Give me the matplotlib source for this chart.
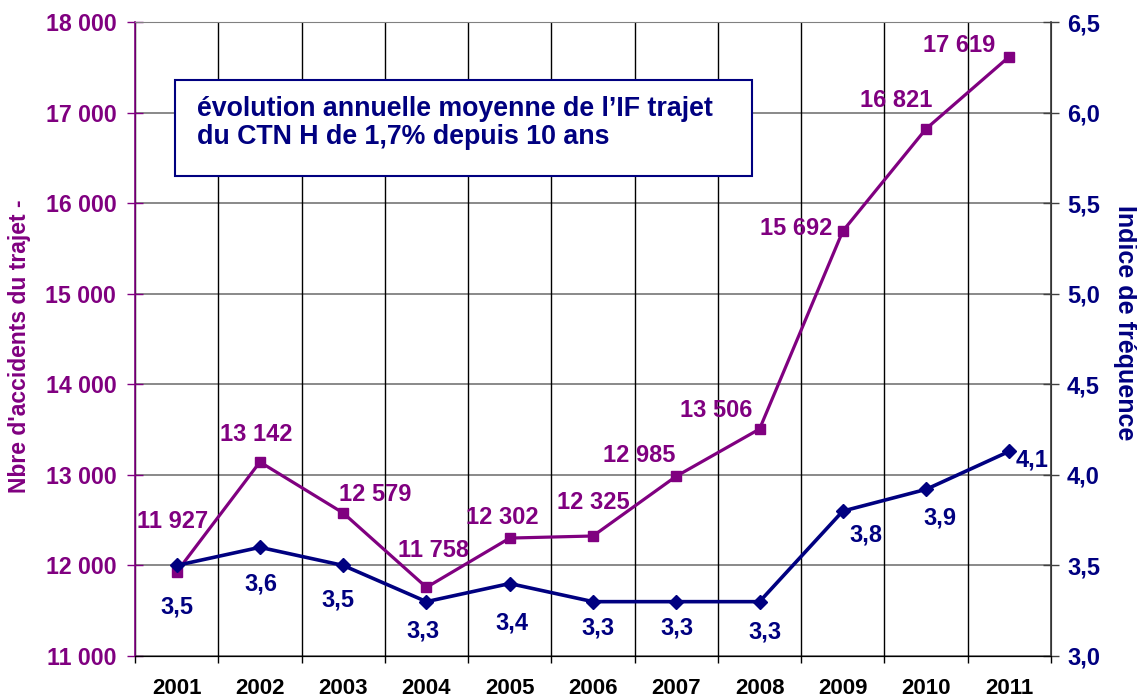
import matplotlib
matplotlib.use("Agg")
import matplotlib.pyplot as plt
from matplotlib.patches import Rectangle

plt.rcParams['font.family'] = ['Liberation Sans', 'DejaVu Sans']
plt.rcParams['font.weight'] = 'bold'

PURPLE = '#800080'
NAVY = '#000080'

years = ['2001', '2002', '2003', '2004', '2005', '2006', '2007', '2008', '2009', '2010', '2011']
accidents = [11927, 13142, 12579, 11758, 12302, 12325, 12985, 13506, 15692, 16821, 17619]
indice = [3.50, 3.60, 3.50, 3.30, 3.40, 3.30, 3.30, 3.30, 3.80, 3.92, 4.13]
left_ticks = [11000, 12000, 13000, 14000, 15000, 16000, 17000, 18000]
right_ticks = [3.0, 3.5, 4.0, 4.5, 5.0, 5.5, 6.0, 6.5]

# label offsets in pixels (dx, dy), screen y up
acc_off = [(-4, 51), (-4, 27), (32, 18), (7, 37), (-7, 21), (0, 33),
           (-37, 21), (-43, 19), (-47, 3), (-30, 28), (-50, 11)]
ind_off = [(0, -42), (1, -37), (-5, -35), (-3, -29), (2, -39), (5, -26),
           (1, -26), (5, -30), (23, -24), (14, -29), (23, -9)]

def fmt_thousands(v):
    return '{:,}'.format(int(v)).replace(',', ' ')

fig = plt.figure(figsize=(11.37, 6.99), dpi=100)
ax = fig.add_axes([135 / 1137, 1 - 656 / 699, 916 / 1137, 634 / 699])
ax2 = ax.twinx()

x = list(range(len(years)))

ax.set_xlim(-0.5, len(years) - 0.5)
ax.set_ylim(11000, 18000)
ax2.set_ylim(3.0, 6.5)

# grid
for v in left_ticks:
    ax.axhline(v, color='#808080', lw=1.3, zorder=0)
for k in range(len(years) + 1):
    ax.axvline(k - 0.5, color='black', lw=1.0, zorder=0)

ax.plot(x, accidents, color=PURPLE, lw=2.3, marker='s', markersize=7.5, zorder=3)
ax2.plot(x, indice, color=NAVY, lw=2.6, marker='D', markersize=7.5, zorder=3)

for i, v in enumerate(accidents):
    ax.annotate(fmt_thousands(v), (x[i], v), xytext=acc_off[i], textcoords='offset pixels',
                ha='center', va='center', color=PURPLE, fontsize=17, fontweight='bold')
for i, v in enumerate(indice):
    ax2.annotate('{:.1f}'.format(v).replace('.', ','), (x[i], v), xytext=ind_off[i],
                 textcoords='offset pixels', ha='center', va='center', color=NAVY,
                 fontsize=17, fontweight='bold')

# x axis
ax.set_xticks(x)
ax.set_xticklabels(years, fontsize=16, fontweight='bold', color='black')
ax.tick_params(axis='x', which='major', length=0, pad=16)
ax.set_xticks([k - 0.5 for k in range(len(years) + 1)], minor=True)
ax.tick_params(axis='x', which='minor', length=5, direction='out', color='black', width=1)

# left axis
ax.set_yticks(left_ticks)
ax.set_yticklabels([fmt_thousands(v) for v in left_ticks], fontsize=16.7, fontweight='bold', color=PURPLE)
ax.tick_params(axis='y', length=11, direction='inout', color=PURPLE, width=1, pad=8)
ax.spines['left'].set_color(PURPLE)
ax.spines['left'].set_linewidth(1.2)
ax.spines['top'].set_color('#808080')
ax.spines['bottom'].set_color('black')

# right axis
ax2.set_yticks(right_ticks)
ax2.set_yticklabels(['{:.1f}'.format(v).replace('.', ',') for v in right_ticks],
                    fontsize=17, fontweight='bold', color=NAVY)
ax2.tick_params(axis='y', length=11, direction='inout', color='#404040', width=1, pad=6)
ax2.spines['right'].set_color('#404040')
ax2.spines['right'].set_linewidth(1.2)
ax2.spines['left'].set_visible(False)
ax2.spines['top'].set_visible(False)

fig.text(20 / 1137, 1 - 346 / 699, "Nbre d'accidents du trajet -", rotation=90,
         ha='center', va='center', color=PURPLE, fontsize=16.5, fontweight='bold')
fig.text(1125 / 1137, 1 - 323 / 699, "Indice de fréquence", rotation=-90,
         ha='center', va='center', color=NAVY, fontsize=18, fontweight='bold')

# annotation box
box = Rectangle((175 / 1137, 1 - 176 / 699), 577 / 1137, 96 / 699, transform=fig.transFigure,
                facecolor='white', edgecolor=NAVY, lw=1.5, zorder=5)
fig.patches.append(box)
fig.text(197 / 1137, 1 - 123 / 699,
         "évolution annuelle moyenne de l’IF trajet\ndu CTN H de 1,7% depuis 10 ans",
         ha='left', va='center', color=NAVY, fontsize=19.3, fontweight='bold',
         linespacing=1.15, zorder=6)

fig.savefig('out.png', dpi=100)
